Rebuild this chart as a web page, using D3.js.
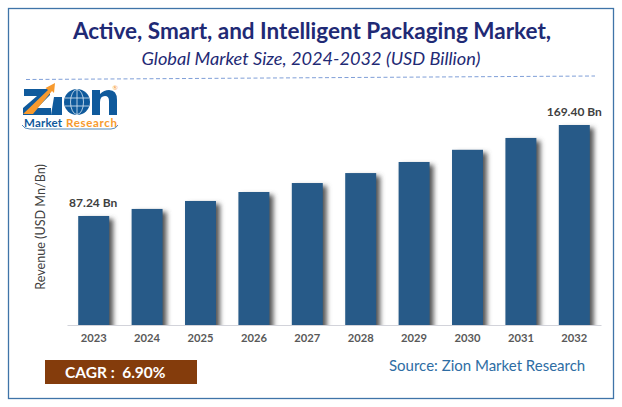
<!DOCTYPE html>
<html>
<head>
<meta charset="utf-8">
<script src="https://d3js.org/d3.v7.min.js"></script>
<style>
  html, body { margin: 0; padding: 0; background: #fff; }
  svg { display: block; }
  text { font-family: Lato, "Open Sans", sans-serif; }
</style>
</head>
<body>
<div id="chart"></div>
<script>
// Values
const years = ['2023', '2024', '2025', '2026', '2027', '2028', '2029', '2030', '2031', '2032'];
const revenue = [87.24, 93.6, 100.8, 108.9, 117, 126, 136, 147, 157.7, 169.4];
const endLabels = { 2023: '87.24 Bn', 2032: '169.40 Bn' };

const titleText = 'Active, Smart, and Intelligent Packaging Market,';
const subtitleText = 'Global Market Size, 2024-2032 (USD Billion)';
const yAxisText = 'Revenue (USD Mn/Bn)';
const cagrText = 'CAGR :  6.90%';
const sourceText = 'Source: Zion Market Research';

const width = 622;
const height = 407;

const svg = d3.select('#chart')
    .append('svg')
    .attr('width', width)
    .attr('height', height);

// Blur for the soft shadow on the right of each bar, cut off at the axis
const defs = svg.append('defs');
defs.append('filter')
    .attr('id', 'bar-blur')
    .attr('x', '-40%').attr('width', '180%')
    .attr('y', '-10%').attr('height', '120%')
    .append('feGaussianBlur')
    .attr('stdDeviation', 2.6);
defs.append('clipPath')
    .attr('id', 'above-axis')
    .append('rect')
    .attr('width', width)
    .attr('height', 325);

// Outer frame
svg.append('rect')
    .attr('x', 8.5).attr('y', 8.5)
    .attr('width', 605).attr('height', 390)
    .attr('fill', 'none')
    .attr('stroke', '#3f74a8')
    .attr('stroke-width', 1.3);

// Titles
svg.append('text')
    .attr('x', 312).attr('y', 38.5)
    .attr('text-anchor', 'middle')
    .attr('font-size', 22.5)
    .attr('font-weight', 700)
    .attr('fill', '#1f2a75')
    .text(titleText);

svg.append('text')
    .attr('x', 311).attr('y', 65)
    .attr('text-anchor', 'middle')
    .attr('font-size', 18.2)
    .attr('font-style', 'italic')
    .attr('fill', '#1f2a75')
    .text(subtitleText);

svg.append('line')
    .attr('x1', 26).attr('y1', 79.5)
    .attr('x2', 595).attr('y2', 76)
    .attr('stroke', '#7f9fd8')
    .attr('stroke-width', 1)
    .attr('stroke-dasharray', '4 2.5');

// Scales. The bars in the picture do not start at zero, hence the negative domain start
const x = d3.scaleBand()
    .domain(years)
    .range([67, 601])
    .paddingInner(0.42)
    .paddingOuter(0.21);

const y = d3.scaleLinear()
    .domain([-11.2, 169.4])
    .range([325, 125]);

// Shadows first, then bars on top
svg.append('g')
    .attr('clip-path', 'url(#above-axis)')
    .selectAll('rect')
    .data(years)
    .enter()
    .append('rect')
    .attr('x', d => x(d) + 4)
    .attr('y', (d, i) => y(revenue[i]) + 3)
    .attr('width', x.bandwidth())
    .attr('height', (d, i) => y.range()[0] - y(revenue[i]) + 10)
    .attr('fill', '#555')
    .attr('filter', 'url(#bar-blur)');

svg.append('g')
    .selectAll('rect')
    .data(years)
    .enter()
    .append('rect')
    .attr('x', d => x(d))
    .attr('y', (d, i) => y(revenue[i]))
    .attr('width', x.bandwidth())
    .attr('height', (d, i) => y.range()[0] - y(revenue[i]))
    .attr('fill', '#275a88');

// Axis
const xAxis = svg.append('g')
    .attr('transform', 'translate(0,325)')
    .call(d3.axisBottom(x).tickSize(0).tickPadding(9));
xAxis.select('.domain').attr('stroke', '#d2d3da').attr('stroke-width', 1.2);
xAxis.selectAll('text')
    .attr('font-size', 11.2)
    .attr('font-weight', 700)
    .attr('fill', '#595959')
    .style('font-family', 'Lato, sans-serif');

svg.append('text')
    .attr('transform', 'translate(45,227) rotate(-90)')
    .attr('text-anchor', 'middle')
    .attr('font-size', 12.6)
    .attr('fill', '#404040')
    .text(yAxisText);

// Value labels on the first and last bars
svg.append('g')
    .selectAll('text')
    .data(years.filter(d => endLabels[d]))
    .enter()
    .append('text')
    .attr('x', d => x(d) + x.bandwidth() / 2 - (d === '2023' ? 0.5 : 0))
    .attr('y', d => y(revenue[years.indexOf(d)]) - 9)
    .attr('text-anchor', 'middle')
    .attr('font-size', 12)
    .attr('font-weight', 700)
    .attr('fill', '#404040')
    .text(d => endLabels[d]);

// CAGR box and source
svg.append('rect')
    .attr('x', 45).attr('y', 360)
    .attr('width', 152).attr('height', 24)
    .attr('fill', '#843c0c');

svg.append('text')
    .attr('x', 65).attr('y', 377.5)
    .attr('font-size', 15.5)
    .attr('font-weight', 700)
    .attr('fill', '#fff')
    .style('white-space', 'pre')
    .text(cagrText);

svg.append('text')
    .attr('x', 389).attr('y', 371)
    .attr('font-size', 15)
    .attr('fill', '#2e6da4')
    .text(sourceText);

// Logo
const logo = svg.append('g');
const logoBlue = '#0f5a9c';
const logoOrange = '#f79a2e';

// Z with the rising arrow
logo.append('path')
    .attr('d', 'M24 89H50V95L37 108H51V115H23V108L37 96H24Z')
    .attr('fill', logoBlue);
logo.append('path')
    .attr('d', 'M23 114L48 90L45.5 88L55 83L54 93L52 91L33 114Z')
    .attr('fill', logoOrange);
// i
logo.append('path')
    .attr('d', 'M54 97H62V115H51Z')
    .attr('fill', logoBlue);

// Globe
logo.append('circle')
    .attr('cx', 77).attr('cy', 102).attr('r', 13)
    .attr('fill', logoBlue);
logo.append('ellipse')
    .attr('cx', 77).attr('cy', 102).attr('rx', 6.5).attr('ry', 12.5)
    .attr('fill', 'none').attr('stroke', '#dbe8f4').attr('stroke-width', 0.8);
logo.append('line')
    .attr('x1', 77).attr('y1', 89).attr('x2', 77).attr('y2', 115)
    .attr('stroke', '#dbe8f4').attr('stroke-width', 0.8);
logo.append('line')
    .attr('x1', 65).attr('y1', 98).attr('x2', 89).attr('y2', 98)
    .attr('stroke', '#dbe8f4').attr('stroke-width', 0.8);
logo.append('line')
    .attr('x1', 65).attr('y1', 106).attr('x2', 89).attr('y2', 106)
    .attr('stroke', '#dbe8f4').attr('stroke-width', 0.8);

// n
logo.append('path')
    .attr('d', 'M92 90H100V94Q104 90 109 90Q117 90 117 100V115H109V101Q109 96 105 96Q100 96 100 102V115H92Z')
    .attr('fill', logoBlue);

logo.append('text')
    .attr('x', 112.5).attr('y', 90)
    .attr('font-size', 6.5)
    .attr('fill', logoOrange)
    .text('®');

logo.append('text')
    .attr('x', 24).attr('y', 127)
    .attr('font-size', 11.5)
    .attr('font-weight', 700)
    .attr('textLength', 38)
    .attr('fill', logoBlue)
    .text('Market');
logo.append('text')
    .attr('x', 66).attr('y', 127)
    .attr('font-size', 11.5)
    .attr('font-weight', 700)
    .attr('textLength', 51)
    .attr('fill', logoOrange)
    .text('Research');
logo.append('path')
    .attr('d', 'M22 125Q24 129 30 129H111Q116 129 118 125')
    .attr('fill', 'none')
    .attr('stroke', logoBlue)
    .attr('stroke-width', 0.7);
</script>
</body>
</html>
